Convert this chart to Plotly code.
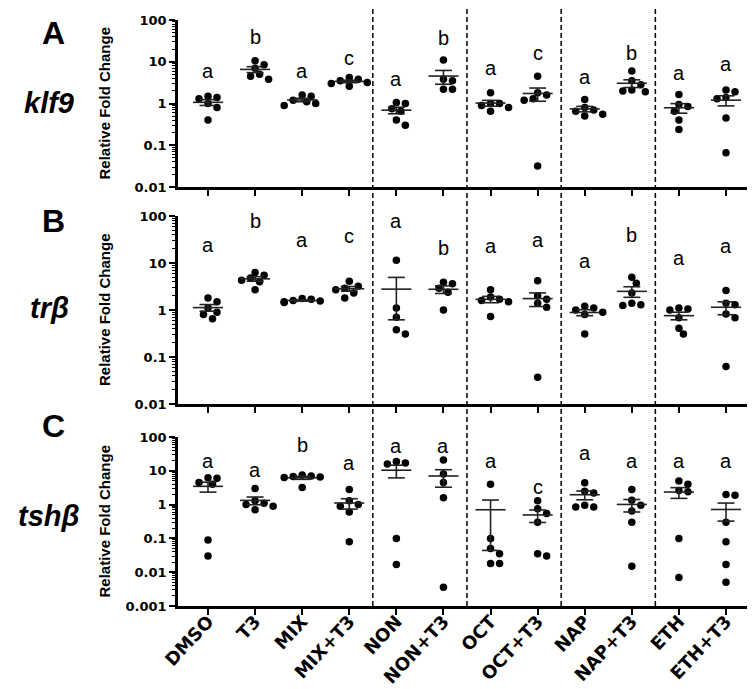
import numpy as np
import plotly.graph_objects as go

groups = ["DMSO", "T3", "MIX", "MIX+T3", "NON", "NON+T3",
          "OCT", "OCT+T3", "NAP", "NAP+T3", "ETH", "ETH+T3"]

# relative fold change per fish
klf9_vals = [
    [1.5, 1.4, 1.3, 1.0, 0.8, 0.4],
    [10.5, 8.5, 7.0, 5.0, 4.5, 3.8],
    [1.6, 1.5, 1.2, 1.1, 1.0, 0.9],
    [4.2, 3.8, 3.5, 3.2, 3.0, 2.6],
    [1.05, 1.0, 0.75, 0.65, 0.4, 0.3],
    [11.0, 3.8, 3.5, 2.2, 2.2],
    [1.8, 1.0, 1.0, 0.9, 0.8, 0.65],
    [4.5, 1.8, 1.6, 1.3, 1.2, 0.032],
    [1.25, 0.8, 0.7, 0.65, 0.55, 0.5],
    [6.0, 3.5, 2.8, 2.1, 2.0, 1.9],
    [1.65, 0.95, 0.85, 0.65, 0.4, 0.24],
    [2.1, 1.9, 1.4, 1.3, 0.45, 0.066],
]
klf9_letters = ["a", "b", "a", "c", "a", "b", "a", "c", "a", "b", "a", "a"]
klf9_letter_at = [5.9, 40, 5.9, 12.6, 3.8, 38, 7.2, 16.6, 4.2, 16.6, 5.5, 8.7]

trb_vals = [
    [1.8, 1.5, 1.1, 0.9, 0.8, 0.65],
    [6.3, 5.5, 4.8, 4.3, 4.0, 2.7],
    [1.75, 1.7, 1.6, 1.55, 1.5, 1.45],
    [4.1, 3.2, 2.9, 2.7, 2.3, 1.8],
    [11.4, 1.1, 0.7, 0.38, 0.31],
    [3.9, 3.6, 2.9, 2.4, 1.0],
    [2.7, 1.9, 1.7, 1.6, 1.5, 0.73],
    [4.2, 2.0, 1.7, 1.4, 1.15, 0.037],
    [1.2, 1.1, 1.0, 0.9, 0.8, 0.31],
    [5.0, 3.7, 2.3, 1.4, 1.3, 1.25],
    [1.1, 1.05, 1.0, 0.68, 0.41, 0.31],
    [2.6, 1.4, 1.3, 0.82, 0.68, 0.063],
]
trb_letters = ["a", "b", "a", "c", "a", "b", "a", "a", "a", "b", "a", "a"]
trb_letter_at = [24, 78, 31, 37, 78, 21, 23, 31, 11, 40, 12.6, 23]

tsh_vals = [
    [6.2, 6.0, 4.5, 4.0, 0.09, 0.03],
    [3.0, 1.3, 1.1, 1.0, 0.9, 0.7],
    [7.5, 7.0, 6.8, 6.5, 6.3, 3.2],
    [2.8, 1.3, 1.0, 0.9, 0.6, 0.08],
    [19, 17, 16, 0.1, 0.017],
    [21, 8, 4.5, 1.6, 0.0036],
    [4.0, 0.1, 0.05, 0.035, 0.018, 0.018],
    [1.3, 0.75, 0.55, 0.3, 0.035, 0.03],
    [4.4, 2.5, 2.2, 0.95, 0.85, 0.85],
    [2.8, 1.35, 0.95, 0.65, 0.3, 0.015],
    [5.0, 4.0, 2.6, 2.4, 0.1, 0.007],
    [2.0, 1.9, 0.3, 0.08, 0.017, 0.005],
]
tsh_letters = ["a", "a", "b", "a", "a", "a", "a", "c", "a", "a", "a", "a"]
tsh_letter_at = [19.5, 10.7, 57.5, 17.4, 55, 55, 19.5, 3.4, 34, 19.5, 19.5, 19.5]

W, H = 755, 689
X0, X1 = 170, 750          # plot area in pixels
PX_CAT = (718 - 200) / 11  # pixels per category

panels = [
    # values, letters, letter y, gene, tag, top px, bottom px, log range
    (klf9_vals, klf9_letters, klf9_letter_at, "klf9", "A", 12, 179, (-2, 2)),
    (trb_vals, trb_letters, trb_letter_at, "tr\u03b2", "B", 208, 396, (-2, 2)),
    (tsh_vals, tsh_letters, tsh_letter_at, "tsh\u03b2", "C", 429, 598, (-3, 2)),
]


def py(px):
    return 1 - px / H


def swarm(vals, px_dec, d=7.5):
    """simple beeswarm: horizontal offsets (category units) so dots don't overlap"""
    ys = np.log10(vals) * px_dec
    offs = np.zeros(len(vals))
    placed = []
    for k in np.argsort(ys)[::-1]:
        for step in [0, 1, -1, 2, -2, 3, -3, 4, -4]:
            xo = step * d * 0.6
            if all((xo - px) ** 2 + (ys[k] - pyy) ** 2 >= (d * 0.95) ** 2 for px, pyy in placed):
                break
        placed.append((xo, ys[k]))
        offs[k] = xo / PX_CAT
    return offs


fig = go.Figure()
annotations = []
xrange_ = [(X0 - 200) / PX_CAT, (X1 - 200) / PX_CAT]
bold = dict(family="DejaVu Sans", color="black", weight="bold")

for p, (vals, letters, letter_at, gene, tag, top, bot, lr) in enumerate(panels):
    sfx = "" if p == 0 else str(p + 1)
    px_dec = (bot - top) / (lr[1] - lr[0])

    dx, dy = [], []
    ex, ey = [], []
    for i, v in enumerate(vals):
        v = np.array(v, dtype=float)
        offs = swarm(v, px_dec)
        dx += list(i + offs)
        dy += list(v)
        m = v.mean()
        se = v.std(ddof=1) / np.sqrt(len(v))
        lo, hi = m - se, m + se
        ex += [i - 0.32, i + 0.32, None, i - 0.18, i + 0.18, None]
        ey += [m, m, None, hi, hi, None]
        if lo > 0:
            ex += [i - 0.18, i + 0.18, None, i, i, None]
            ey += [lo, lo, None, lo, hi, None]
        else:
            ex += [i, i, None]
            ey += [10 ** lr[0], hi, None]

    fig.add_trace(go.Scatter(
        x=dx, y=dy, mode="markers", xaxis="x" + sfx, yaxis="y" + sfx,
        marker=dict(size=7.5, color="black"), showlegend=False, hoverinfo="skip"))
    fig.add_trace(go.Scatter(
        x=ex, y=ey, mode="lines", xaxis="x" + sfx, yaxis="y" + sfx,
        line=dict(color="#222", width=1.6), showlegend=False, hoverinfo="skip"))

    for i, (lt, ly) in enumerate(zip(letters, letter_at)):
        annotations.append(dict(
            x=i, y=np.log10(ly), xref="x" + sfx, yref="y" + sfx, text=lt,
            showarrow=False, font=dict(family="Liberation Sans", size=20, color="black"),
            xanchor="center", yanchor="middle"))

    major = [10.0 ** k for k in range(lr[0], lr[1] + 1)]
    major_txt = [("%g" % t) for t in major]
    minor_v = [m * 10.0 ** k for k in range(lr[0], lr[1]) for m in range(2, 10)]

    fig.update_layout(**{
        "xaxis" + sfx: dict(
            domain=[X0 / W, X1 / W], range=xrange_, anchor="y" + sfx,
            tickvals=list(range(len(groups))),
            ticktext=groups if p == 2 else [""] * len(groups),
            tickangle=-47, tickfont=dict(bold, size=18), ticklabelstandoff=-11,
            ticks="outside", ticklen=6, tickwidth=2, tickcolor="black",
            showline=True, linecolor="black", linewidth=2.5,
            showgrid=False, zeroline=False, automargin=False),
        "yaxis" + sfx: dict(
            domain=[py(bot), py(top)], type="log", range=list(lr), anchor="x" + sfx,
            tickvals=major, ticktext=major_txt, tickfont=dict(bold, size=13),
            ticks="outside", ticklen=6, tickwidth=2, tickcolor="black",
            minor=dict(tickvals=minor_v, ticks="outside", ticklen=3,
                       tickwidth=1.2, tickcolor="black", showgrid=False),
            showline=True, linecolor="black", linewidth=2.5,
            showgrid=False, zeroline=False, automargin=False),
    })

    mid = (top + bot) / 2
    annotations.append(dict(
        x=96 / W, y=py(mid), xref="paper", yref="paper", text="<b>Relative Fold Change</b>",
        textangle=-90, showarrow=False, xanchor="center", yanchor="middle",
        font=dict(family="Liberation Sans", size=15, color="black")))
    tag_y = {"A": 25, "B": 213, "C": 418}[tag]
    gene_y = {"A": 95, "B": 300, "C": 508}[tag]
    annotations.append(dict(
        x=45 / W, y=py(tag_y), xref="paper", yref="paper", text="<b>%s</b>" % tag,
        showarrow=False, xanchor="center", yanchor="middle",
        font=dict(family="Liberation Sans", size=32, color="black")))
    annotations.append(dict(
        x=41 / W, y=py(gene_y), xref="paper", yref="paper", text="<b><i>%s</i></b>" % gene,
        showarrow=False, xanchor="center", yanchor="middle",
        font=dict(family="Liberation Sans", size=29, color="black")))

shapes = []
for b in [3.5, 5.5, 7.5, 9.5]:
    shapes.append(dict(type="line", xref="x3", yref="paper", x0=b, x1=b,
                       y0=py(598), y1=1.0,
                       line=dict(color="black", width=1.5, dash="5px,3px")))

fig.update_layout(
    width=W, height=H, margin=dict(l=0, r=0, t=0, b=0),
    paper_bgcolor="white", plot_bgcolor="rgba(0,0,0,0)",
    annotations=annotations, shapes=shapes, showlegend=False)

fig.write_html("out.html")
